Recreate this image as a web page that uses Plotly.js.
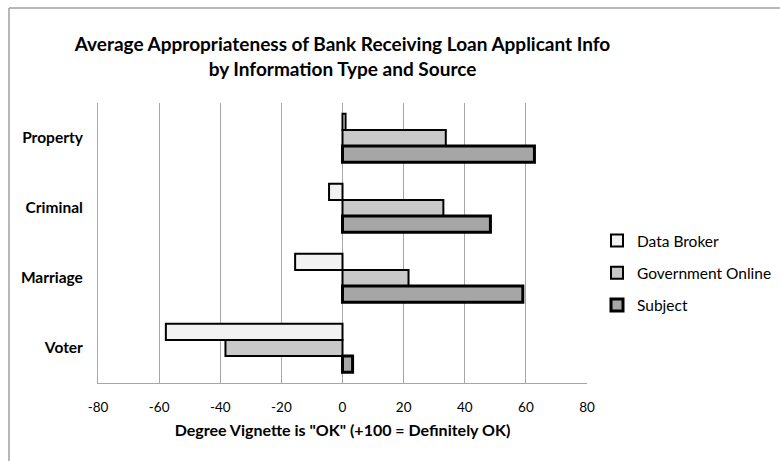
<!DOCTYPE html>
<html>
<head>
<meta charset="utf-8">
<script src="https://cdn.plot.ly/plotly-3.0.1.min.js"></script>
<style>html,body{margin:0;padding:0;background:#fff;}#chart{width:780px;height:461px;}</style>
</head>
<body>
<div id="chart"></div>
<script>
const categories = ['Property', 'Criminal', 'Marriage', 'Voter'];
const seriesNames = ['Data Broker', 'Government Online', 'Subject'];
const dataBroker = [1, -4.4, -15.5, -57.8];
const governmentOnline = [33.8, 33, 21.6, -38.3];
const subject = [62.8, 48.4, 59, 3.3];
const xTickVals = [-80, -60, -40, -20, 0, 20, 40, 60, 80];

const seriesValues = [dataBroker, governmentOnline, subject];
const fills = ['#f2f2f2', '#c9c9c9', '#a6a6a6'];
const lineWidths = [2, 2, 3];

const traces = seriesValues.map((vals, i) => ({
  type: 'bar',
  orientation: 'h',
  name: seriesNames[i],
  y: categories,
  x: vals,
  legendgroup: 'g' + i,
  marker: {color: fills[i], line: {color: '#000', width: lineWidths[i]}},
  hoverinfo: 'x+y+name'
}));

const L = 98, R = 587, T = 103, B = 383, W = 780, H = 461;
const pw = R - L, ph = B - T;
const px = v => (v - L) / pw;
const py = v => (B - v) / ph;
const FONT = 'Lato, "Open Sans", sans-serif';

const layout = {
  width: W, height: H,
  margin: {l: L, r: W - R, t: T, b: H - B, autoexpand: false},
  paper_bgcolor: '#fff', plot_bgcolor: '#fff',
  font: {family: FONT, color: '#000', size: 13},
  title: {
    text: '<b>Average Appropriateness of Bank Receiving Loan Applicant Info<br>by Information Type and Source</b>',
    x: 0.5, xref: 'paper', xanchor: 'center',
    y: 1 - 51 / H, yref: 'container', yanchor: 'middle',
    font: {size: 19, family: FONT, color: '#000'}
  },
  barmode: 'group',
  bargap: 0.31,
  bargroupgap: 0,
  xaxis: {
    range: [-80, 80],
    tickvals: xTickVals,
    ticktext: xTickVals.map(String),
    showgrid: true, gridcolor: '#a6a6a6', gridwidth: 1,
    zeroline: true, zerolinecolor: '#a6a6a6', zerolinewidth: 1,
    showline: true, linecolor: '#a6a6a6', linewidth: 1,
    ticks: '', ticklabelstandoff: 12,
    tickfont: {size: 13.5},
    title: {text: '<b>Degree Vignette is "OK" (+100 = Definitely OK)</b>', font: {size: 16}, standoff: 10},
    fixedrange: true
  },
  yaxis: {
    categoryorder: 'array', categoryarray: categories,
    autorange: 'reversed',
    showline: true, linecolor: '#a6a6a6', linewidth: 1,
    showgrid: false, ticks: '', ticklabelstandoff: 11,
    tickfont: {size: 15.5, family: FONT, weight: 'bold'},
    fixedrange: true
  },
  legend: {
    x: px(597), y: py(224), xanchor: 'left', yanchor: 'top',
    traceorder: 'grouped', tracegroupgap: 9,
    itemwidth: 30,
    font: {size: 15.5},
    bgcolor: 'rgba(0,0,0,0)'
  },
  shapes: [
    {type: 'line', xref: 'paper', yref: 'paper', x0: px(9), x1: px(9), y0: py(8), y1: py(H + 2), line: {color: '#a0a0a0', width: 1.5}},
    {type: 'line', xref: 'paper', yref: 'paper', x0: px(9), x1: px(W + 2), y0: py(8), y1: py(8), line: {color: '#a0a0a0', width: 1.5}}
  ],
  showlegend: true
};

Plotly.newPlot('chart', traces, layout, {displayModeBar: false, staticPlot: true});
</script>
</body>
</html>
